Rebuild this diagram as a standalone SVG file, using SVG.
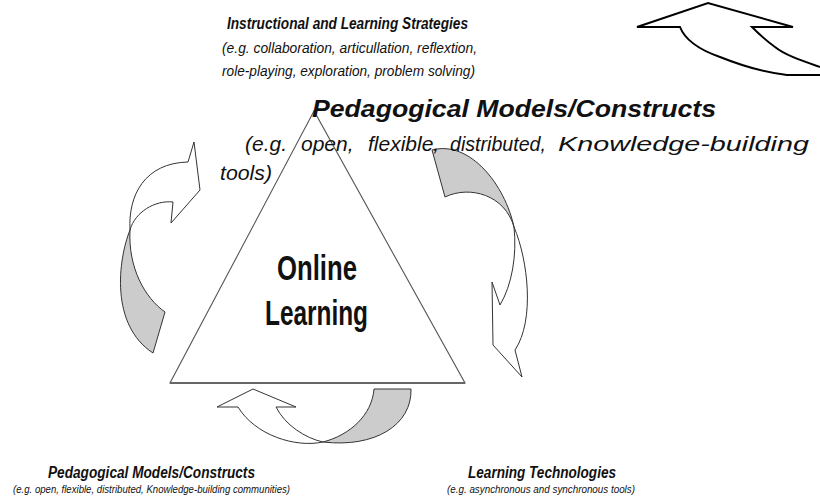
<svg xmlns="http://www.w3.org/2000/svg" width="820" height="497" viewBox="0 0 820 497">
<style>
.bi{font-family:"Liberation Sans",Arial,sans-serif;font-weight:bold;font-style:italic;fill:#111}
.it{font-family:"Liberation Sans",Arial,sans-serif;font-style:italic;fill:#111}
.ctr{font-family:"Liberation Sans",Arial,sans-serif;font-weight:bold;fill:#111}
.arw{fill:#fff;stroke:#333;stroke-width:1;stroke-linejoin:round}
.back{fill:#cccccc;stroke:#333;stroke-width:1;stroke-linejoin:round}
.side{fill:#fff;stroke:#555;stroke-width:1.1}
</style>
<rect width="820" height="497" fill="#fff"/>

<g id="top-right-arrow">
<path d="M820,67 C800,60 785,55 775,47 C765,40 758,33 752,27 L793,27 L708,3 L637,27 L680,27 C685,40 700,50 720,57 C740,65 760,72 787,75 L820,75" fill="#fff" stroke="#000" stroke-width="2" stroke-linejoin="miter"/>
</g>

<g id="triangle">
<polygon class="side" points="314,111 170,383 465,383"/>
<line x1="170" y1="383" x2="465" y2="383" stroke="#666" stroke-width="2.2"/>
</g>

<g id="connectors">
<g id="left-arrow">
<path class="back" d="M130,230 C118,260 110,325 153,353 L165,312 C145,298 128,268 130,230 Z"/>
<path class="arw" d="M130,230 C128,195 145,163 188,162 L194,142 L200,190 L171,223 L173,202 C155,200 135,212 130,230 Z"/>
</g>
<g id="right-arrow">
<path class="back" d="M432,150 C470,140 505,185 514,227 C505,195 470,185 445,197 Z"/>
<path class="arw" d="M514,227 C528,260 535,320 515,350 L522,377 L493,345 L492,282 L500,305 C512,285 517,255 514,227 Z"/>
</g>
<g id="bottom-arrow">
<path class="back" d="M323,442 C350,435 372,415 374,389 L411,389 C412,425 375,448 323,442 Z"/>
<path class="arw" d="M253,389 L296,407 L276,407 C285,425 305,438 323,442 C295,448 255,435 238,407 L217,407 Z"/>
</g>
</g>

<g id="instructional-strategies">
<text class="bi" x="227" y="29" font-size="16" textLength="241" lengthAdjust="spacingAndGlyphs">Instructional and Learning Strategies</text>
<text class="it" x="222" y="53" font-size="15" textLength="255" lengthAdjust="spacingAndGlyphs">(e.g. collaboration, articullation, reflextion,</text>
<text class="it" x="222" y="76" font-size="15" textLength="253" lengthAdjust="spacingAndGlyphs">role-playing, exploration, problem solving)</text>
</g>

<g id="pedagogical-models-large">
<text class="bi" x="312" y="117" font-size="23" textLength="404" lengthAdjust="spacingAndGlyphs">Pedagogical Models/Constructs</text>
<text class="it" y="151" font-size="21"><tspan x="245">(e.g.</tspan><tspan x="301">open,</tspan><tspan x="368">flexible,</tspan><tspan x="450" textLength="96" lengthAdjust="spacingAndGlyphs">distributed,</tspan><tspan x="558" textLength="251" lengthAdjust="spacingAndGlyphs">Knowledge-building</tspan></text>
<text class="it" x="220" y="180" font-size="21" textLength="52" lengthAdjust="spacingAndGlyphs">tools)</text>
</g>

<g id="online-learning">
<text class="ctr" x="277" y="280" font-size="35" textLength="80" lengthAdjust="spacingAndGlyphs">Online</text>
<text class="ctr" x="265" y="325" font-size="35" textLength="103" lengthAdjust="spacingAndGlyphs">Learning</text>
</g>

<g id="pedagogical-models-bottom">
<text class="bi" x="48" y="478" font-size="16" textLength="207" lengthAdjust="spacingAndGlyphs">Pedagogical Models/Constructs</text>
<text class="it" x="13" y="493" font-size="10" textLength="277" lengthAdjust="spacingAndGlyphs">(e.g. open, flexible, distributed, Knowledge-building communities)</text>
</g>

<g id="learning-technologies">
<text class="bi" x="468" y="478" font-size="16" textLength="148" lengthAdjust="spacingAndGlyphs">Learning Technologies</text>
<text class="it" x="447" y="493" font-size="10" textLength="188" lengthAdjust="spacingAndGlyphs">(e.g. asynchronous and synchronous  tools)</text>
</g>
</svg>
